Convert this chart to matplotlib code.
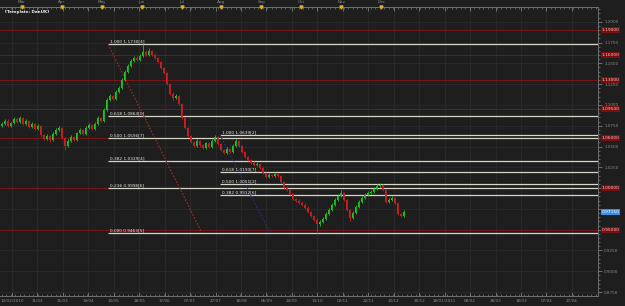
import numpy as np
import matplotlib.pyplot as plt
import matplotlib.transforms as mtransforms
from matplotlib.ticker import MultipleLocator, FixedLocator, FuncFormatter

# daily bars (price values)
closes = [1.0771, 1.0807, 1.0747, 1.0783, 1.0831, 1.0794, 1.0843, 1.0771, 1.0807, 1.0735,
          1.0771, 1.0711, 1.0747, 1.0639, 1.0591, 1.0627, 1.0579, 1.0651, 1.0699, 1.0723,
          1.0603, 1.0507, 1.0567, 1.0615, 1.0579, 1.0663, 1.0699, 1.0651, 1.0723, 1.0759,
          1.0711, 1.0771, 1.0843, 1.0807, 1.0941, 1.1061, 1.1109, 1.1073, 1.1158, 1.1206,
          1.1302, 1.1398, 1.1470, 1.1530, 1.1566, 1.1542, 1.1590, 1.1638, 1.1602, 1.1650,
          1.1602, 1.1566, 1.1518, 1.1446, 1.1386, 1.1254, 1.1133, 1.1085, 1.1109, 1.1013,
          1.0843, 1.0723, 1.0627, 1.0555, 1.0507, 1.0567, 1.0519, 1.0483, 1.0543, 1.0495,
          1.0567, 1.0615, 1.0531, 1.0459, 1.0423, 1.0471, 1.0435, 1.0507, 1.0567, 1.0507,
          1.0435, 1.0375, 1.0339, 1.0303, 1.0279, 1.0291, 1.0243, 1.0183, 1.0135, 1.0159,
          1.0147, 1.0171, 1.0147, 1.0075, 1.0003, 0.9979, 0.9931, 0.9871, 0.9847, 0.9823,
          0.9799, 0.9763, 0.9715, 0.9667, 0.9619, 0.9571, 0.9595, 0.9631, 0.9691, 0.9739,
          0.9799, 0.9859, 0.9907, 0.9943, 0.9859, 0.9739, 0.9643, 0.9703, 0.9775, 0.9835,
          0.9883, 0.9919, 0.9943, 0.9955, 0.9991, 1.0027, 1.0039, 0.9979, 0.9835, 0.9859,
          0.9883, 0.9823, 0.9691, 0.9667, 0.9715]
highs = [1.0795, 1.0830, 1.0825, 1.0800, 1.0860, 1.0850, 1.0870, 1.0855, 1.0825, 1.0820,
         1.0790, 1.0785, 1.0765, 1.0760, 1.0655, 1.0645, 1.0640, 1.0670, 1.0720, 1.0745,
         1.0735, 1.0615, 1.0585, 1.0635, 1.0630, 1.0680, 1.0720, 1.0710, 1.0745, 1.0780,
         1.0770, 1.0790, 1.0865, 1.0860, 1.0960, 1.1085, 1.1135, 1.1125, 1.1180, 1.1230,
         1.1325, 1.1420, 1.1495, 1.1555, 1.1590, 1.1585, 1.1615, 1.1730, 1.1660, 1.1690,
         1.1665, 1.1620, 1.1580, 1.1530, 1.1460, 1.1400, 1.1265, 1.1150, 1.1130, 1.1125,
         1.1025, 1.0855, 1.0735, 1.0640, 1.0570, 1.0585, 1.0580, 1.0535, 1.0560, 1.0555,
         1.0585, 1.0639, 1.0625, 1.0545, 1.0475, 1.0490, 1.0485, 1.0525, 1.0590, 1.0580,
         1.0520, 1.0450, 1.0390, 1.0355, 1.0320, 1.0310, 1.0305, 1.0255, 1.0195, 1.0180,
         1.0175, 1.0195, 1.0185, 1.0160, 1.0090, 1.0020, 0.9995, 0.9945, 0.9885, 0.9865,
         0.9840, 0.9815, 0.9780, 0.9730, 0.9680, 0.9635, 0.9615, 0.9650, 0.9710, 0.9760,
         0.9820, 0.9880, 0.9930, 0.9975, 0.9955, 0.9870, 0.9750, 0.9720, 0.9795, 0.9855,
         0.9905, 0.9940, 0.9965, 0.9980, 1.0010, 1.0050, 1.0065, 1.0055, 0.9990, 0.9880,
         0.9900, 0.9895, 0.9835, 0.9705, 0.9740]
lows = [1.0730, 1.0760, 1.0730, 1.0735, 1.0770, 1.0780, 1.0785, 1.0755, 1.0760, 1.0720,
        1.0725, 1.0695, 1.0700, 1.0620, 1.0575, 1.0580, 1.0560, 1.0570, 1.0640, 1.0685,
        1.0590, 1.0460, 1.0495, 1.0555, 1.0565, 1.0570, 1.0650, 1.0635, 1.0640, 1.0710,
        1.0695, 1.0700, 1.0760, 1.0790, 1.0795, 1.0930, 1.1045, 1.1055, 1.1060, 1.1140,
        1.1195, 1.1290, 1.1385, 1.1455, 1.1515, 1.1525, 1.1530, 1.1575, 1.1585, 1.1590,
        1.1585, 1.1550, 1.1500, 1.1430, 1.1370, 1.1240, 1.1115, 1.1065, 1.1070, 1.0995,
        1.0825, 1.0705, 1.0610, 1.0540, 1.0490, 1.0495, 1.0500, 1.0465, 1.0470, 1.0480,
        1.0485, 1.0555, 1.0515, 1.0445, 1.0405, 1.0410, 1.0420, 1.0425, 1.0495, 1.0490,
        1.0420, 1.0360, 1.0320, 1.0285, 1.0260, 1.0265, 1.0225, 1.0165, 1.0120, 1.0120,
        1.0130, 1.0135, 1.0130, 1.0060, 0.9985, 0.9960, 0.9915, 0.9855, 0.9830, 0.9805,
        0.9780, 0.9745, 0.9700, 0.9650, 0.9600, 0.9463, 0.9550, 0.9580, 0.9620, 0.9680,
        0.9725, 0.9785, 0.9845, 0.9890, 0.9840, 0.9720, 0.9610, 0.9630, 0.9690, 0.9760,
        0.9820, 0.9870, 0.9905, 0.9930, 0.9940, 0.9980, 1.0010, 0.9965, 0.9815, 0.9820,
        0.9845, 0.9805, 0.9675, 0.9650, 0.9655]
first_open = 1.0745
opens = [first_open] + closes[:-1]

months = ["Mar", "Apr", "May", "Jun", "Jul", "Aug", "Sep", "Oct", "Nov", "Dec"]
date_labels = ["10/02/2010", "11/03", "31/03", "19/04", "10/05", "28/05", "17/06", "07/07",
               "27/07", "18/08", "06/09", "24/09", "13/10", "02/11", "22/11", "10/12",
               "30/12", "18/01/2011", "08/02", "28/02", "18/03", "07/04", "27/04"]

red_levels = [1.19, 1.16, 1.13, 1.095, 1.06, 1.00, 0.95]

# fibonacci retracements (anchor bars and prices)
fib_a_bars = [35.5, 66.8]
fib_a_prices = [1.1730, 0.9463]
fib_a_ratios = [1.0, 0.618, 0.5, 0.382, 0.236, 0.0]
fib_a_tags = ["[4]", "[0]", "[7]", "[4]", "[6]", "[5]"]
fib_b_bars = [72.8, 89.5]
fib_b_prices = [1.0639, 0.9463]
fib_b_ratios = [1.0, 0.618, 0.5, 0.382]
fib_b_tags = ["[2]", "[7]", "[2]", "[6]"]

bg = "#1e1e1e"
grid_c = "#2b2b2b"
axis_c = "#8c8c8c"
up_c = "#22c422"
dn_c = "#cc2020"

fig = plt.figure(figsize=(6.25, 3.06), dpi=100, facecolor=bg)
ax = fig.add_axes([0, 10 / 306, 598 / 625, 289 / 306])
ax.set_facecolor(bg)

x = np.arange(len(closes))
o = np.array(opens)
c = np.array(closes)
cols = [up_c if cc >= oo else dn_c for oo, cc in zip(o, c)]

xmax = 198.83
ax.set_xlim(-0.5, xmax)
ax.set_ylim(0.8703, 1.2177)

# levels that carry a box on the price scale hide the tick label below them
boxed = red_levels + [closes[-1]]

def price_fmt(v, pos):
    if any(abs(v - b) < 0.004 for b in boxed):
        return ""
    return f"{v:.4f}"

date_pos = 3.5 + 8.483 * np.arange(len(date_labels))
ax.xaxis.set_major_locator(FixedLocator(date_pos))
ax.xaxis.set_minor_locator(MultipleLocator(1.5))
ax.set_xticklabels(date_labels)
ax.yaxis.set_major_locator(MultipleLocator(0.025))
ax.yaxis.set_minor_locator(MultipleLocator(0.005))
ax.yaxis.set_major_formatter(FuncFormatter(price_fmt))
ax.yaxis.tick_right()
ax.grid(True, which="major", color=grid_c, lw=0.6)
ax.set_axisbelow(True)

# red horizontal levels
for lv in red_levels:
    ax.axhline(lv, color="#761515", lw=0.75, zorder=1)

# fib lines
def draw_fib(bars, prices, ratios, tags, diag_color):
    hi, lo = prices
    for r, tag in zip(ratios, tags):
        lvl = lo + r * (hi - lo)
        ax.hlines(lvl, bars[0], xmax, color="#d6d6c6", lw=0.9, zorder=2)
        ax.annotate(f"{r:.3f} {lvl:.4f}{tag}", (bars[0] + 0.6, lvl), xytext=(0, 0.6),
                    textcoords="offset points", fontsize=3.1, color="#e6e6e6",
                    va="bottom", ha="left", zorder=4)
    ax.plot(bars, prices, color=diag_color, lw=0.8, ls=(0, (1.5, 1.5)), zorder=2)

draw_fib(fib_a_bars, fib_a_prices, fib_a_ratios, fib_a_tags, "#a82828")
draw_fib(fib_b_bars, fib_b_prices, fib_b_ratios, fib_b_tags, "#2c2c90")

# candles
ax.vlines(x, lows, highs, colors=cols, lw=0.6, zorder=3)
body_h = np.maximum(np.abs(c - o), 0.0005)
ax.bar(x, body_h, bottom=np.minimum(o, c), width=0.62, color=cols, lw=0, zorder=3)

# axes styling
ax.spines["left"].set_visible(False)
for s in ["top", "bottom", "right"]:
    ax.spines[s].set_color("#707070")
    ax.spines[s].set_linewidth(0.7)
ax.tick_params(axis="x", which="both", top=True, bottom=True, direction="in",
               colors=axis_c, labelsize=3.0, pad=2)
ax.tick_params(axis="x", which="major", length=3, width=0.5)
ax.tick_params(axis="x", which="minor", length=1.5, width=0.4)
ax.tick_params(axis="y", which="both", direction="out", colors=axis_c,
               labelsize=3.0, pad=1.5)
ax.tick_params(axis="y", which="major", length=3, width=0.5)
ax.tick_params(axis="y", which="minor", length=1.5, width=0.4)

# month markers on the top ruler
trans = mtransforms.blended_transform_factory(ax.transData, ax.transAxes)
month_pos = 6.83 + 13.3 * np.arange(len(months))
ax.plot(month_pos, np.full(len(months), 1.0), "v", color="#d8b428", ms=2.2,
        transform=trans, clip_on=False, zorder=5)
for mp, m in zip(month_pos, months):
    ax.text(mp, 1.019, m, transform=trans, fontsize=3.0, color=axis_c,
            ha="center", va="center", clip_on=False)

ax.text(1, 0.983, "[Template: DanUK]", transform=trans, fontsize=3.0, color="#f0f0f0",
        ha="left", va="center", fontweight="bold")

# price labels on the right scale
rtrans = mtransforms.blended_transform_factory(ax.transAxes, ax.transData)
for lv in red_levels:
    ax.text(1.006, lv, f"{lv:.5f}", transform=rtrans, fontsize=3.2, color="#f0c4c4",
            ha="left", va="center", clip_on=False, zorder=6,
            bbox=dict(boxstyle="square,pad=0.2", fc="#7a0e0e", ec="none"))
ax.text(1.006, closes[-1], f"{closes[-1]:.5f}", transform=rtrans, fontsize=3.2,
        color="white", ha="left", va="center", clip_on=False, zorder=6,
        bbox=dict(boxstyle="square,pad=0.2", fc="#3a8ee6", ec="none"))

fig.savefig("out.png", dpi=100, facecolor=bg)
